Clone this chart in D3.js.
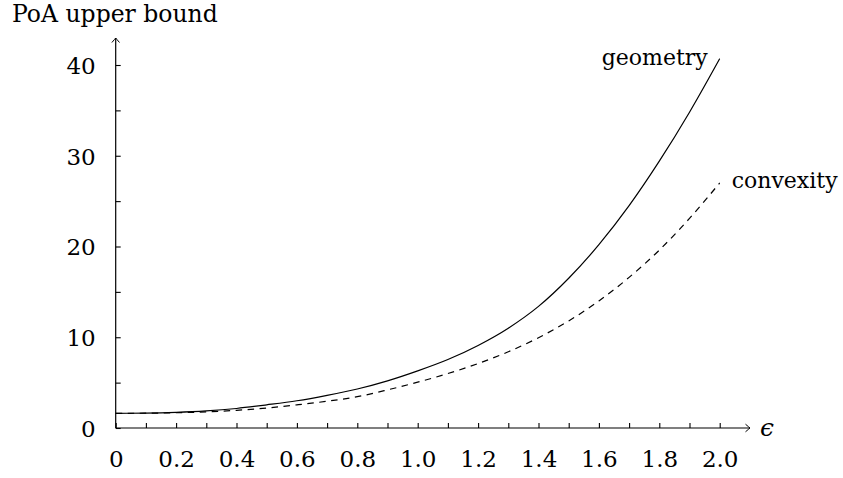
<!DOCTYPE html>
<html>
<head>
<meta charset="utf-8">
<script src="https://cdn.jsdelivr.net/npm/d3@7"></script>
<style>
  body { margin: 0; background: #fff; }
</style>
</head>
<body>
<div id="chart"></div>
<script>
// values
var eps = [0, 0.1, 0.2, 0.3, 0.4, 0.5, 0.6, 0.7, 0.8, 0.9, 1.0,
           1.1, 1.2, 1.3, 1.4, 1.5, 1.6, 1.7, 1.8, 1.9, 2.0];
var geometry = [1.62, 1.64, 1.72, 1.88, 2.15, 2.55, 3.0, 3.6, 4.3, 5.2, 6.3,
                7.55, 9.1, 11.0, 13.4, 16.5, 20.2, 24.5, 29.4, 34.8, 40.7];
var convexity = [1.62, 1.63, 1.68, 1.78, 1.95, 2.2, 2.55, 2.95, 3.45, 4.2, 5.05,
                 6.0, 7.1, 8.4, 9.95, 11.8, 14.0, 16.6, 19.6, 23.1, 27.0];
var xTicks = d3.range(0, 21).map(d => d / 10);
var yTicks = [0, 5, 10, 15, 20, 25, 30, 35, 40];

var svgWidth = 843;
var svgHeight = 478;
var serif = "DejaVu Serif";
var fs = 23;

var svg = d3.select("#chart")
    .append("svg")
    .attr("width", svgWidth)
    .attr("height", svgHeight)
    .attr("font-family", serif);

// open arrow head like tikz "->"
svg.append("defs").append("marker")
    .attr("id", "arrow")
    .attr("viewBox", "-6 -5 8 10")
    .attr("refX", 0)
    .attr("refY", 0)
    .attr("markerWidth", 8)
    .attr("markerHeight", 10)
    .attr("markerUnits", "userSpaceOnUse")
    .attr("orient", "auto")
    .append("path")
    .attr("d", "M-4.5,-3.8 Q-1,-0.8 0,0 Q-1,0.8 -4.5,3.8")
    .attr("fill", "none")
    .attr("stroke", "#000")
    .attr("stroke-width", 1);

var x = d3.scaleLinear().domain([0, 2]).range([115.7, 719.7]);
var y = d3.scaleLinear().domain([0, 40]).range([428, 65]);

// x axis ticks + labels
var xAxis = svg.append("g")
    .attr("transform", `translate(0, ${y(0)})`)
    .call(d3.axisBottom(x)
        .tickValues(xTicks)
        .tickSize(-5)
        .tickFormat(d => Math.round(d * 10) % 2 === 0 ? (d === 0 ? "0" : d3.format(".1f")(d)) : ""));
xAxis.attr("font-family", serif).attr("font-size", fs);
xAxis.select(".domain").remove();
xAxis.selectAll("line").attr("stroke-width", 1.1);
xAxis.selectAll("text")
    .attr("y", 39)
    .attr("dy", null)
    .attr("fill", "#000");

// y axis ticks + labels
var yAxis = svg.append("g")
    .attr("transform", `translate(${x(0)}, 0)`)
    .call(d3.axisLeft(y)
        .tickValues(yTicks)
        .tickSize(-5)
        .tickFormat(d => d % 10 === 0 ? d : ""));
yAxis.attr("font-family", serif).attr("font-size", fs);
yAxis.select(".domain").remove();
yAxis.selectAll("line").attr("stroke-width", 1.1);
yAxis.selectAll("text")
    .attr("x", -20)
    .attr("dy", "0.36em")
    .attr("fill", "#000");

// axis lines with arrows
svg.append("line")
    .attr("x1", x(0)).attr("y1", y(0))
    .attr("x2", 750).attr("y2", y(0))
    .attr("stroke", "#000").attr("stroke-width", 1.2)
    .attr("marker-end", "url(#arrow)");
svg.append("line")
    .attr("x1", x(0)).attr("y1", y(0))
    .attr("x2", x(0)).attr("y2", 38)
    .attr("stroke", "#000").attr("stroke-width", 1.2)
    .attr("marker-end", "url(#arrow)");

// curves
var line = d3.line()
    .x((d, i) => x(eps[i]))
    .y(d => y(d))
    .curve(d3.curveMonotoneX);

svg.append("path")
    .datum(geometry)
    .attr("d", line)
    .attr("fill", "none")
    .attr("stroke", "#000")
    .attr("stroke-width", 1.2);

svg.append("path")
    .datum(convexity)
    .attr("d", line)
    .attr("fill", "none")
    .attr("stroke", "#000")
    .attr("stroke-width", 1.2)
    .attr("stroke-dasharray", "6.5,5.5");

// labels
svg.append("text")
    .attr("x", 12)
    .attr("y", 22)
    .attr("font-size", 23.5)
    .text("PoA upper bound");

svg.append("text")
    .attr("x", 760)
    .attr("y", y(0))
    .attr("dy", "0.3em")
    .attr("font-size", 25)
    .attr("font-style", "italic")
    .text("ϵ");

svg.append("text")
    .attr("x", x(2) - 12)
    .attr("y", 65)
    .attr("text-anchor", "end")
    .attr("font-size", 22)
    .text("geometry");

svg.append("text")
    .attr("x", x(2) + 12)
    .attr("y", 188)
    .attr("font-size", 22)
    .text("convexity");
</script>
</body>
</html>
